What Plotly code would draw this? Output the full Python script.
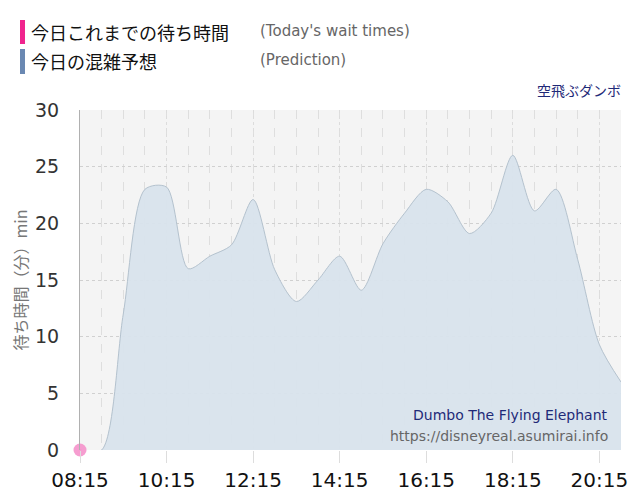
import plotly.graph_objects as go

# prediction for today (30 min steps)
times = ["2024-01-01 08:15", "2024-01-01 08:45", "2024-01-01 09:15", "2024-01-01 09:45",
         "2024-01-01 10:15", "2024-01-01 10:45", "2024-01-01 11:15", "2024-01-01 11:45",
         "2024-01-01 12:15", "2024-01-01 12:45", "2024-01-01 13:15", "2024-01-01 13:45",
         "2024-01-01 14:15", "2024-01-01 14:45", "2024-01-01 15:15", "2024-01-01 15:45",
         "2024-01-01 16:15", "2024-01-01 16:45", "2024-01-01 17:15", "2024-01-01 17:45",
         "2024-01-01 18:15", "2024-01-01 18:45", "2024-01-01 19:15", "2024-01-01 19:45",
         "2024-01-01 20:15", "2024-01-01 20:45"]
prediction = [0, 0, 12, 23, 23.2, 16, 17.1, 18.1, 22.1, 15.9, 13.1, 15.0, 17.1,
              14.1, 18.2, 20.9, 23.0, 21.9, 19.1, 20.9, 26.0, 21.1, 23.0, 16.8, 9.3, 6.0]

# today's actual wait times so far
actual_times = ["2024-01-01 08:15"]
actual = [0]

tick_vals = ["2024-01-01 08:15", "2024-01-01 10:15", "2024-01-01 12:15", "2024-01-01 14:15",
             "2024-01-01 16:15", "2024-01-01 18:15", "2024-01-01 20:15"]
tick_text = ["08:15", "10:15", "12:15", "14:15", "16:15", "18:15", "20:15"]

fig = go.Figure()
fig.add_trace(go.Scatter(x=times, y=prediction, mode="lines", fill="tozeroy",
                         line=dict(color="#b4c2ce", width=1, shape="spline", smoothing=0.8),
                         fillcolor="rgba(216,227,236,0.95)", hoverinfo="skip"))
fig.add_trace(go.Scatter(x=actual_times, y=actual, mode="markers", cliponaxis=False,
                         marker=dict(color="rgba(245,140,200,0.85)", size=13)))

# page body adds 8px, so margins are set to land the plot at x 80-621, y 110-450
fig.update_layout(
    width=640, height=500, showlegend=False,
    margin=dict(l=72, r=27, t=102, b=58),
    paper_bgcolor="white", plot_bgcolor="#f4f4f4",
    font=dict(family="DejaVu Sans, Noto Sans CJK JP", color="#333"),
)
fig.update_xaxes(
    range=["2024-01-01 08:15", "2024-01-01 20:45"],
    tickvals=tick_vals, ticktext=tick_text,
    tickfont=dict(size=20, color="#111"),
    ticks="outside", ticklen=12, tickcolor="#dddddd",
    showgrid=True, gridcolor="#dcdcdc", griddash="dot",
    minor=dict(dtick=30 * 60 * 1000, tick0="2024-01-01 08:15",
               showgrid=True, gridcolor="#dedede", griddash="dash"),
    showline=False, zeroline=False, automargin=False,
)
fig.update_yaxes(
    range=[0, 30], dtick=5,
    tickfont=dict(size=19, color="#333"),
    ticks="outside", ticklen=16, tickcolor="rgba(0,0,0,0)",
    showgrid=True, gridcolor="#d0d0d0", griddash="dot",
    showline=True, linecolor="#b0b0b0", linewidth=1,
    zeroline=False, automargin=False,
    title=dict(text="待ち時間（分）min", standoff=10,
               font=dict(size=16, color="#777", family="Noto Sans CJK JP")),
)

# header legend bars
fig.add_shape(type="rect", xref="paper", yref="paper",
              x0=(20 - 80) / 541, x1=(25 - 80) / 541,
              y0=(450 - 20) / 340, y1=(450 - 44) / 340,
              fillcolor="#f0248e", line_width=0)
fig.add_shape(type="rect", xref="paper", yref="paper",
              x0=(20 - 80) / 541, x1=(25 - 80) / 541,
              y0=(450 - 49) / 340, y1=(450 - 74) / 340,
              fillcolor="#6a88b2", line_width=0)

def note(text, px, py, size, color, anchor="left", family="Noto Sans CJK JP"):
    fig.add_annotation(text=text, xref="paper", yref="paper",
                       x=(px - 80) / 541, y=(450 - py) / 340,
                       xanchor=anchor, yanchor="middle", showarrow=False,
                       font=dict(size=size, color=color, family=family))

note("今日これまでの待ち時間", 29, 32, 18, "#111")
note("(Today's wait times)", 258, 31, 15, "#666", family="DejaVu Sans")
note("今日の混雑予想", 29, 61, 18, "#111")
note("(Prediction)", 258, 60, 15, "#666", family="DejaVu Sans")
note("空飛ぶダンボ", 623, 90, 14, "#1f2a78", anchor="right")
note("Dumbo The Flying Elephant", 610, 415, 14, "#1f2a78", anchor="right", family="DejaVu Sans")
note("https://disneyreal.asumirai.info", 610, 436, 14, "#666", anchor="right", family="DejaVu Sans")

fig.write_html("out.html")
